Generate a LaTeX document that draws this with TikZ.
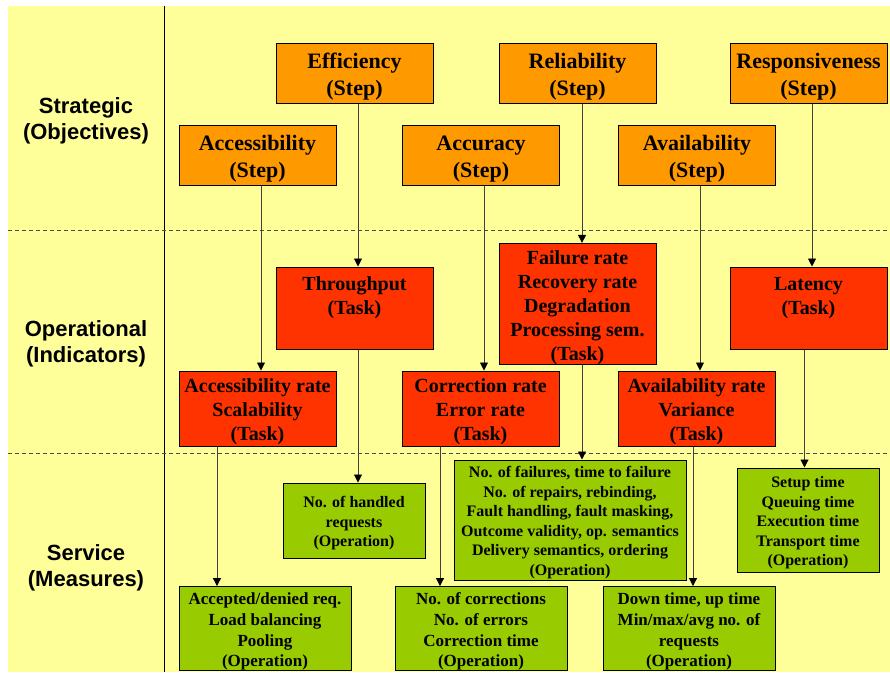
\documentclass[tikz,border=0pt]{standalone}
\usepackage{fontspec}
\setmainfont{Liberation Serif}
\newfontfamily\labelfont{Liberation Sans}
\usetikzlibrary{arrows.meta}

\definecolor{bgyellow}{HTML}{FFFF99}
\definecolor{steporange}{HTML}{FF9900}
\definecolor{taskred}{HTML}{FF3300}
\definecolor{opgreen}{HTML}{99CC00}

% a little extra room above the first line of a box
\newcommand{\topgap}{\rule{0pt}{1.05em}}

\begin{document}
\begin{tikzpicture}[x=1pt, y=-1pt,
  box/.style={draw=black, line width=1pt, inner sep=0pt, align=center},
  stepbox/.style={box, fill=steporange, minimum width=157pt, minimum height=60pt,
    font=\fontsize{22}{27}\selectfont\bfseries},
  taskbox/.style={box, fill=taskred, minimum width=157pt,
    font=\fontsize{20}{24}\selectfont\bfseries},
  opbox/.style={box, fill=opgreen, font=\fontsize{16}{19.5}\selectfont\bfseries},
  bigop/.style={opbox, minimum width=172pt, minimum height=83pt,
    font=\fontsize{17}{20.8}\selectfont\bfseries},
  layer/.style={font=\labelfont\fontsize{22}{26}\selectfont\bfseries, align=center},
  link/.style={draw=black!75, line width=0.9pt,
    -{Triangle[length=8pt,width=8pt,color=black]}}]

  \useasboundingbox (0,0) rectangle (890,672);
  \fill[white] (0,0) rectangle (890,672);
  \fill[bgyellow] (8,6) rectangle (890,672);

  % layer separators
  \draw[line width=1pt] (164,6) -- (164,672);
  \draw[black!70, line width=0.9pt, dash pattern=on 4pt off 3pt] (8,230) -- (890,230);
  \draw[black!70, line width=0.9pt, dash pattern=on 4pt off 3pt] (8,453) -- (890,453);

  \node[layer] at (86,121) (strat) {Strategic\\(Objectives)};
  \node[layer] at (86,344) (oper) {Operational\\(Indicators)};
  \node[layer] at (86,567.5) (serv) {Service\\(Measures)};

  % steps
  \node[stepbox] at (354.5,73) (eff) {\topgap Efficiency\\(Step)};
  \node[stepbox] at (577.5,73) (rel) {\topgap Reliability\\(Step)};
  \node[stepbox] at (808.5,73) (resp) {\topgap Responsiveness\\(Step)};
  \node[stepbox] at (257.5,155) (acc) {\topgap Accessibility\\(Step)};
  \node[stepbox] at (481,155) (accu) {\topgap Accuracy\\(Step)};
  \node[stepbox] at (697,155) (avail) {\topgap Availability\\(Step)};

  % tasks
  \node[taskbox, minimum height=82pt] at (354.5,308) (thru) {Throughput\\(Task)\\\mbox{}};
  \node[taskbox, minimum height=120pt] at (577.5,304) (fail)
    {\topgap Failure rate\\Recovery rate\\Degradation\\Processing sem.\\(Task)};
  \node[taskbox, minimum height=82pt] at (808.5,308) (lat) {Latency\\(Task)\\\mbox{}};
  \node[taskbox, minimum height=75pt] at (257.5,408.5) (accrate)
    {\topgap Accessibility rate\\Scalability\\(Task)};
  \node[taskbox, minimum height=75pt] at (480.5,408.5) (corr)
    {\topgap Correction rate\\Error rate\\(Task)};
  \node[taskbox, minimum height=75pt] at (696.5,408.5) (availrate)
    {\topgap Availability rate\\Variance\\(Task)};

  % operations
  \node[opbox, minimum width=142pt, minimum height=75pt] at (354,520.5) (handled)
    {\topgap No. of handled\\requests\\(Operation)};
  \node[opbox, minimum width=232pt, minimum height=120pt] at (570,520) (failops)
    {\topgap No. of failures, time to failure\\No. of repairs, rebinding,\\
     Fault handling, fault masking,\\Outcome validity, op. semantics\\
     Delivery semantics, ordering\\(Operation)};
  \node[opbox, minimum width=142pt, minimum height=104pt] at (808,520) (times)
    {\topgap Setup time\\Queuing time\\Execution time\\Transport time\\(Operation)};
  \node[bigop] at (265,628.5) (accepted)
    {\topgap Accepted/denied req.\\Load balancing\\Pooling\\(Operation)};
  \node[bigop] at (481,628.5) (corrs)
    {\topgap No. of corrections\\No. of errors\\Correction time\\(Operation)};
  \node[bigop] at (689,628.5) (down)
    {\topgap Down time, up time\\Min/max/avg no. of\\requests\\(Operation)};

  % step -> task
  \draw[link] ([xshift=3.5]eff.south) -- ([xshift=3.5]eff.south |- thru.north);
  \draw[link] ([xshift=4.5]rel.south) -- ([xshift=4.5]rel.south |- fail.north);
  \draw[link] ([xshift=3.5]resp.south) -- ([xshift=3.5]resp.south |- lat.north);
  \draw[link] ([xshift=3.5]acc.south) -- ([xshift=3.5]acc.south |- accrate.north);
  \draw[link] ([xshift=3]accu.south) -- ([xshift=3]accu.south |- corr.north);
  \draw[link] ([xshift=3]avail.south) -- ([xshift=3]avail.south |- availrate.north);

  % task -> operation
  \draw[link] ([xshift=3.5]thru.south) -- ([xshift=3.5]thru.south |- handled.north);
  \draw[link] ([xshift=4.5]fail.south) -- ([xshift=4.5]fail.south |- failops.north);
  \draw[link] ([xshift=-4]lat.south) -- ([xshift=-4]lat.south |- times.north);
  \draw[link] ([xshift=-40.5]accrate.south) -- ([xshift=-40.5]accrate.south |- accepted.north);
  \draw[link] ([xshift=-40.5]corr.south) -- ([xshift=-40.5]corr.south |- corrs.north);
  \draw[link] ([xshift=-3.5]availrate.south) -- ([xshift=-3.5]availrate.south |- down.north);

\end{tikzpicture}
\end{document}
